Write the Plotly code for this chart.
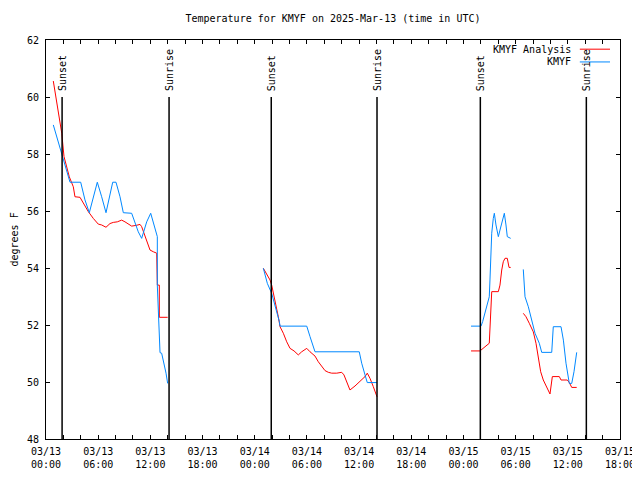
import plotly.graph_objects as go
import pandas as pd

BASE = pd.Timestamp("2025-03-13 00:00")

# Hours since 2025-03-13 00:00 UTC (None = gap)
anl_hours = [0.84, 1.03, 1.81, 2.07, 2.38, 2.68, 3.14, 3.33, 3.91, 4.29, 4.86, 5.44, 6.01, 6.40, 6.90,
             7.36, 7.74, 8.20, 8.70, 9.08, 9.46, 9.85, 10.43, 10.81, 11.00, 11.27, 11.58, 11.96, 12.34,
             12.73, 12.80, 13.03, 13.03, 13.99, None,
             24.99, 25.45, 25.76, 25.95, 26.33, 26.53, 26.71, 26.91, 27.29, 27.68, 28.06, 28.52, 29.01,
             29.40, 29.98, 30.36, 30.93, 31.31, 31.70, 32.08, 32.46, 32.85, 33.43, 34.00, 34.26, 34.58,
             34.95, 35.53, 36.10, 36.68, 36.94, 37.25, 37.63, 38.06, None,
             48.87, 49.90, 50.97, 51.05, 51.25, 52.01, 52.20, 52.40, 52.58, 52.78, 53.04, 53.24, 53.43, None,
             54.88, 55.19, 55.57, 56.03, 56.34, 56.61, 56.88, 57.18, 57.57, 57.95, 58.22, 59.02, 59.22,
             59.94, 60.17, 60.45, 61.02]
anl_temp = [60.56, 60.19, 58.73, 57.91, 57.55, 57.20, 56.85, 56.50, 56.48, 56.27, 55.98, 55.74, 55.54, 55.51, 55.43,
            55.56, 55.60, 55.62, 55.68, 55.62, 55.54, 55.47, 55.50, 55.53, 55.45, 55.22, 54.98, 54.63, 54.57,
            54.52, 53.40, 53.40, 52.27, 52.27, None,
            53.99, 53.75, 53.58, 53.40, 52.88, 52.59, 52.29, 51.94, 51.71, 51.41, 51.18, 51.09, 50.95,
            51.06, 51.18, 51.06, 50.91, 50.71, 50.54, 50.40, 50.34, 50.31, 50.31, 50.34, 50.25, 50.01,
            49.72, 49.86, 50.01, 50.19, 50.31, 50.13, 49.84, 49.48, None,
            51.09, 51.09, 51.36, 51.76, 53.17, 53.17, 53.40, 53.93, 54.22, 54.34, 54.34, 54.02, 54.02, None,
            52.41, 52.29, 52.06, 51.76, 51.36, 50.89, 50.36, 50.07, 49.84, 49.58, 50.19, 50.19, 50.07,
            50.07, 49.98, 49.81, 49.81]

obs_hours = [0.84, 1.23, 1.61, 1.99, 2.38, 2.76, 3.99, 4.48, 4.98, 5.90, 6.40, 6.90, 7.67, 8.05, 8.51, 8.89,
             9.85, 10.23, 10.61, 11.00, 11.58, 12.04, 12.34, 12.65, 12.80, 12.80, 12.99, 13.11, 13.30, 13.57,
             13.80, 13.99, None,
             24.99, 25.45, 25.95, 26.33, 26.53, 26.83, 26.91, 29.98, 30.36, 30.93, 36.02, 36.30, 36.68,
             36.94, 38.06, None,
             48.87, 50.02, 50.21, 50.48, 50.74, 50.97, 51.05, 51.17, 51.25, 51.43, 51.55, 51.74, 52.01,
             52.20, 52.47, 52.70, 52.89, 53.04, 53.43, None,
             54.88, 54.96, 55.08, 55.46, 55.84, 56.23, 56.72, 57.00, 58.15, 58.33, 59.22, 59.49, 59.79,
             60.06, 60.17, 60.45, 60.71, 61.02]
obs_temp = [59.02, 58.61, 58.14, 57.73, 57.32, 57.01, 57.01, 56.39, 55.94, 57.01, 56.50, 55.94, 57.01, 57.01, 56.50, 55.94,
            55.92, 55.62, 55.27, 55.04, 55.62, 55.92, 55.62, 55.22, 55.10, 53.40, 51.53, 51.03, 51.01, 50.66,
            50.31, 49.95, None,
            53.99, 53.46, 53.11, 52.70, 52.41, 52.12, 51.96, 51.96, 51.59, 51.06, 51.06, 50.66, 50.25,
            49.98, 49.98, None,
            51.96, 51.96, 52.12, 52.41, 52.70, 52.99, 53.58, 54.57, 55.22, 55.74, 55.92, 55.51, 55.10,
            55.33, 55.68, 55.92, 55.51, 55.10, 55.04, None,
            53.95, 53.52, 52.99, 52.64, 52.18, 51.71, 51.36, 51.04, 51.04, 51.94, 51.94, 51.47, 50.66,
            50.01, 49.95, 49.95, 50.36, 51.04]

sun_hours = [1.85, 14.15, 25.90, 38.06, 49.94, 62.13]
sun_labels = ["Sunset", "Sunrise", "Sunset", "Sunrise", "Sunset", "Sunrise"]
sun_line_top = 60.0

series_names = ["KMYF Analysis", "KMYF"]
series_colors = ["#ff0000", "#0088ff"]

x_start = "2025-03-13 00:00"
x_end = "2025-03-15 18:00"
y_min, y_max = 48, 62


def to_time(hours):
    return [BASE + pd.Timedelta(hours=h) if h is not None else None for h in hours]


FONT = "DejaVu Sans Mono"

fig = go.Figure()
fig.add_trace(go.Scatter(x=to_time(anl_hours), y=anl_temp, mode="lines", name=series_names[0],
                         line=dict(color=series_colors[0], width=1)))
fig.add_trace(go.Scatter(x=to_time(obs_hours), y=obs_temp, mode="lines", name=series_names[1],
                         line=dict(color=series_colors[1], width=1)))

shapes = []
annotations = []
for h, lab in zip(to_time(sun_hours), sun_labels):
    shapes.append(dict(type="line", xref="x", yref="y", x0=h, x1=h, y0=y_min, y1=sun_line_top,
                       line=dict(color="black", width=1.5)))
    annotations.append(dict(x=h, y=sun_line_top, xref="x", yref="y", text=lab, showarrow=False,
                            textangle=-90, xanchor="center", yanchor="bottom", yshift=4,
                            font=dict(family=FONT, size=10, color="black")))

# Legend (gnuplot style: text right-aligned, sample line to the right)
leg_y = [0.977, 0.945]
for name, col, yy in zip(series_names, series_colors, leg_y):
    annotations.append(dict(x=0.918, y=yy, xref="paper", yref="paper", text=name, showarrow=False,
                            xanchor="right", yanchor="middle",
                            font=dict(family=FONT, size=10, color="black")))
    shapes.append(dict(type="line", xref="paper", yref="paper", x0=0.930, x1=0.9826, y0=yy, y1=yy,
                       line=dict(color=col, width=1)))

annotations.append(dict(x=-0.0557, y=0.5, xref="paper", yref="paper", text="degrees F", showarrow=False,
                        textangle=-90, xanchor="center", yanchor="middle",
                        font=dict(family=FONT, size=10, color="black")))

# The page body has an 8px margin; size the figure so the page fits the 640x480 window.
fig.update_layout(
    width=632, height=464,
    margin=dict(l=38, r=20, t=32, b=33),
    paper_bgcolor="white", plot_bgcolor="white",
    showlegend=False,
    title=dict(text="Temperature for KMYF on 2025-Mar-13 (time in UTC)", x=0.5142, xanchor="center",
               y=0.9763, yanchor="middle", font=dict(family=FONT, size=10, color="black")),
    font=dict(family=FONT, size=10, color="black"),
    shapes=shapes, annotations=annotations,
)
fig.update_xaxes(
    type="date", range=[x_start, x_end], tick0=x_start, dtick=6 * 3600 * 1000,
    tickformat="%m/%d<br>%H:%M", ticks="inside", ticklen=4, tickcolor="black",
    minor=dict(dtick=2 * 3600 * 1000, ticks="inside", ticklen=4, tickcolor="black"),
    showline=True, linecolor="black", linewidth=1, mirror="ticks", showgrid=False, zeroline=False,
    ticklabelstandoff=3, automargin=False, ticklabeloverflow="allow",
    tickfont=dict(family=FONT, size=10, color="black"),
)
fig.update_yaxes(
    range=[y_min, y_max], dtick=2, ticks="inside", ticklen=4, tickcolor="black",
    showline=True, linecolor="black", linewidth=1, mirror="ticks", showgrid=False, zeroline=False,
    ticklabelstandoff=4, automargin=False,
    tickfont=dict(family=FONT, size=10, color="black"),
)

fig.write_html("out.html")
